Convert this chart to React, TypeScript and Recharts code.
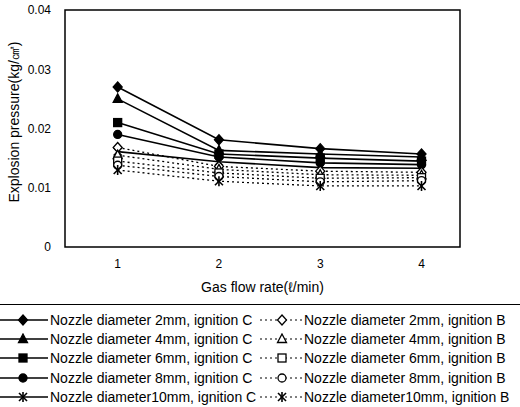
import React from "react";
import { LineChart, Line, XAxis, YAxis, ReferenceArea } from "recharts";

const flowRates = [1, 2, 3, 4];
const yTicks = [0, 0.01, 0.02, 0.03, 0.04];

// ignition C (solid, filled markers)
const c2mm = [0.027, 0.0181, 0.0166, 0.0157];
const c4mm = [0.025, 0.0163, 0.0157, 0.0152];
const c6mm = [0.021, 0.0157, 0.015, 0.0145];
const c8mm = [0.019, 0.0152, 0.0142, 0.0139];
const c10mm = [0.0161, 0.0144, 0.0134, 0.0133];

// ignition B (dotted, open markers)
const b2mm = [0.0168, 0.0136, 0.0128, 0.0126];
const b4mm = [0.0155, 0.0131, 0.0122, 0.0121];
const b6mm = [0.0145, 0.0125, 0.0116, 0.0117];
const b8mm = [0.0138, 0.0119, 0.011, 0.0112];
const b10mm = [0.013, 0.0111, 0.0103, 0.0103];

type Shape = "diamond" | "triangle" | "square" | "circle" | "star";

const series: { key: string; name: string; values: number[]; shape: Shape; open: boolean }[] = [
  { key: "c2", name: "Nozzle diameter 2mm, ignition C", values: c2mm, shape: "diamond", open: false },
  { key: "c4", name: "Nozzle diameter 4mm, ignition C", values: c4mm, shape: "triangle", open: false },
  { key: "c6", name: "Nozzle diameter 6mm, ignition C", values: c6mm, shape: "square", open: false },
  { key: "c8", name: "Nozzle diameter 8mm, ignition C", values: c8mm, shape: "circle", open: false },
  { key: "c10", name: "Nozzle diameter10mm, ignition C", values: c10mm, shape: "star", open: false },
  { key: "b2", name: "Nozzle diameter 2mm, ignition B", values: b2mm, shape: "diamond", open: true },
  { key: "b4", name: "Nozzle diameter 4mm, ignition B", values: b4mm, shape: "triangle", open: true },
  { key: "b6", name: "Nozzle diameter 6mm, ignition B", values: b6mm, shape: "square", open: true },
  { key: "b8", name: "Nozzle diameter 8mm, ignition B", values: b8mm, shape: "circle", open: true },
  { key: "b10", name: "Nozzle diameter10mm, ignition B", values: b10mm, shape: "star", open: true },
];

const data = flowRates.map((x, i) => {
  const row: Record<string, number> = { x };
  series.forEach((s) => (row[s.key] = s.values[i]));
  return row;
});

const FONT = "'Liberation Sans', Arial, sans-serif";

function Marker({ cx, cy, shape, open }: { cx: number; cy: number; shape: Shape; open: boolean }) {
  const fill = open ? "#fff" : "#000";
  const sw = 1.3;
  if (shape === "diamond")
    return <polygon points={`${cx},${cy - 5} ${cx + 4.5},${cy} ${cx},${cy + 5} ${cx - 4.5},${cy}`} fill={fill} stroke="#000" strokeWidth={sw} />;
  if (shape === "triangle")
    return <polygon points={`${cx},${cy - 5} ${cx + 4.5},${cy + 3.5} ${cx - 4.5},${cy + 3.5}`} fill={fill} stroke="#000" strokeWidth={sw} />;
  if (shape === "square")
    return <rect x={cx - 4} y={cy - 4} width={8} height={8} fill={fill} stroke="#000" strokeWidth={sw} />;
  if (shape === "circle")
    return <circle cx={cx} cy={cy} r={4} fill={fill} stroke="#000" strokeWidth={sw} />;
  return (
    <g stroke="#000" strokeWidth={1.6}>
      <line x1={cx - 4} y1={cy - 4} x2={cx + 4} y2={cy + 4} />
      <line x1={cx - 4} y1={cy + 4} x2={cx + 4} y2={cy - 4} />
      <line x1={cx} y1={cy - 5} x2={cx} y2={cy + 5} />
    </g>
  );
}

function LegendRow({ name, shape, open }: { name: string; shape: Shape; open: boolean }) {
  const w = open ? 42 : 48;
  return (
    <div style={{ display: "flex", alignItems: "center", height: 19.3 }}>
      <svg width={w} height={12} style={{ flex: "none" }}>
        <line x1={0} y1={6} x2={w} y2={6} stroke="#000" strokeWidth={open ? 1.2 : 1.5} strokeDasharray={open ? "2 3" : undefined} />
        <Marker cx={open ? 22 : 23} cy={6} shape={shape} open={open} />
      </svg>
      <span style={{ marginLeft: 2, whiteSpace: "nowrap" }}>{name}</span>
    </div>
  );
}

export default function App() {
  const cSeries = series.filter((s) => !s.open);
  const bSeries = series.filter((s) => s.open);
  return (
    <div style={{ position: "absolute", left: 0, top: 0, width: 520, height: 407, background: "#fff", fontFamily: FONT, overflow: "hidden" }}>
      <LineChart width={520} height={300} data={data} margin={{ top: 10, right: 60, left: 0, bottom: 8 }}>
        <ReferenceArea x1={0.48} x2={4.38} y1={0} y2={0.04} fill="none" stroke="#000" strokeWidth={1.5} ifOverflow="visible" />
        <XAxis
          dataKey="x"
          type="number"
          domain={[0.48, 4.38]}
          ticks={flowRates}
          allowDataOverflow
          height={45}
          axisLine={false}
          tickLine={false}
          tickSize={0}
          tickMargin={12}
          tick={{ fontSize: 12, fill: "#000", fontFamily: FONT }}
          label={{ value: "Gas flow rate(ℓ/min)", position: "insideBottom", offset: 0, fontSize: 14, fill: "#000", fontFamily: FONT }}
        />
        <YAxis
          type="number"
          domain={[0, 0.04]}
          ticks={yTicks}
          width={65}
          axisLine={false}
          tickLine={false}
          tickSize={0}
          tickMargin={14}
          tickFormatter={(v: number) => (v === 0 ? "0" : v.toFixed(2))}
          tick={{ fontSize: 12, fill: "#000", fontFamily: FONT }}
          label={{
            content: () => (
              <text x={0} y={0} transform="translate(19,122) rotate(-90)" textAnchor="middle" fontSize={14} fill="#000" fontFamily={FONT}>
                Explosion pressure(kg/㎠)
              </text>
            ),
          }}
        />
        {series.map((s) => (
          <Line
            key={s.key}
            dataKey={s.key}
            name={s.name}
            type="linear"
            stroke="#000"
            strokeWidth={s.open ? 1.3 : 1.6}
            strokeDasharray={s.open ? "2 3" : undefined}
            isAnimationActive={false}
            dot={(p: any) => <Marker key={`${s.key}-${p.index}`} cx={p.cx} cy={p.cy} shape={s.shape} open={s.open} />}
            activeDot={false}
          />
        ))}
      </LineChart>
      <div style={{ position: "absolute", left: 0, top: 304, width: 520, borderTop: "1.5px solid #000" }} />
      <div style={{ position: "absolute", left: 0, top: 310, fontSize: 14, color: "#000" }}>
        {cSeries.map((s) => (
          <LegendRow key={s.key} name={s.name} shape={s.shape} open={false} />
        ))}
      </div>
      <div style={{ position: "absolute", left: 260, top: 310, fontSize: 14, color: "#000" }}>
        {bSeries.map((s) => (
          <LegendRow key={s.key} name={s.name} shape={s.shape} open={true} />
        ))}
      </div>
    </div>
  );
}
